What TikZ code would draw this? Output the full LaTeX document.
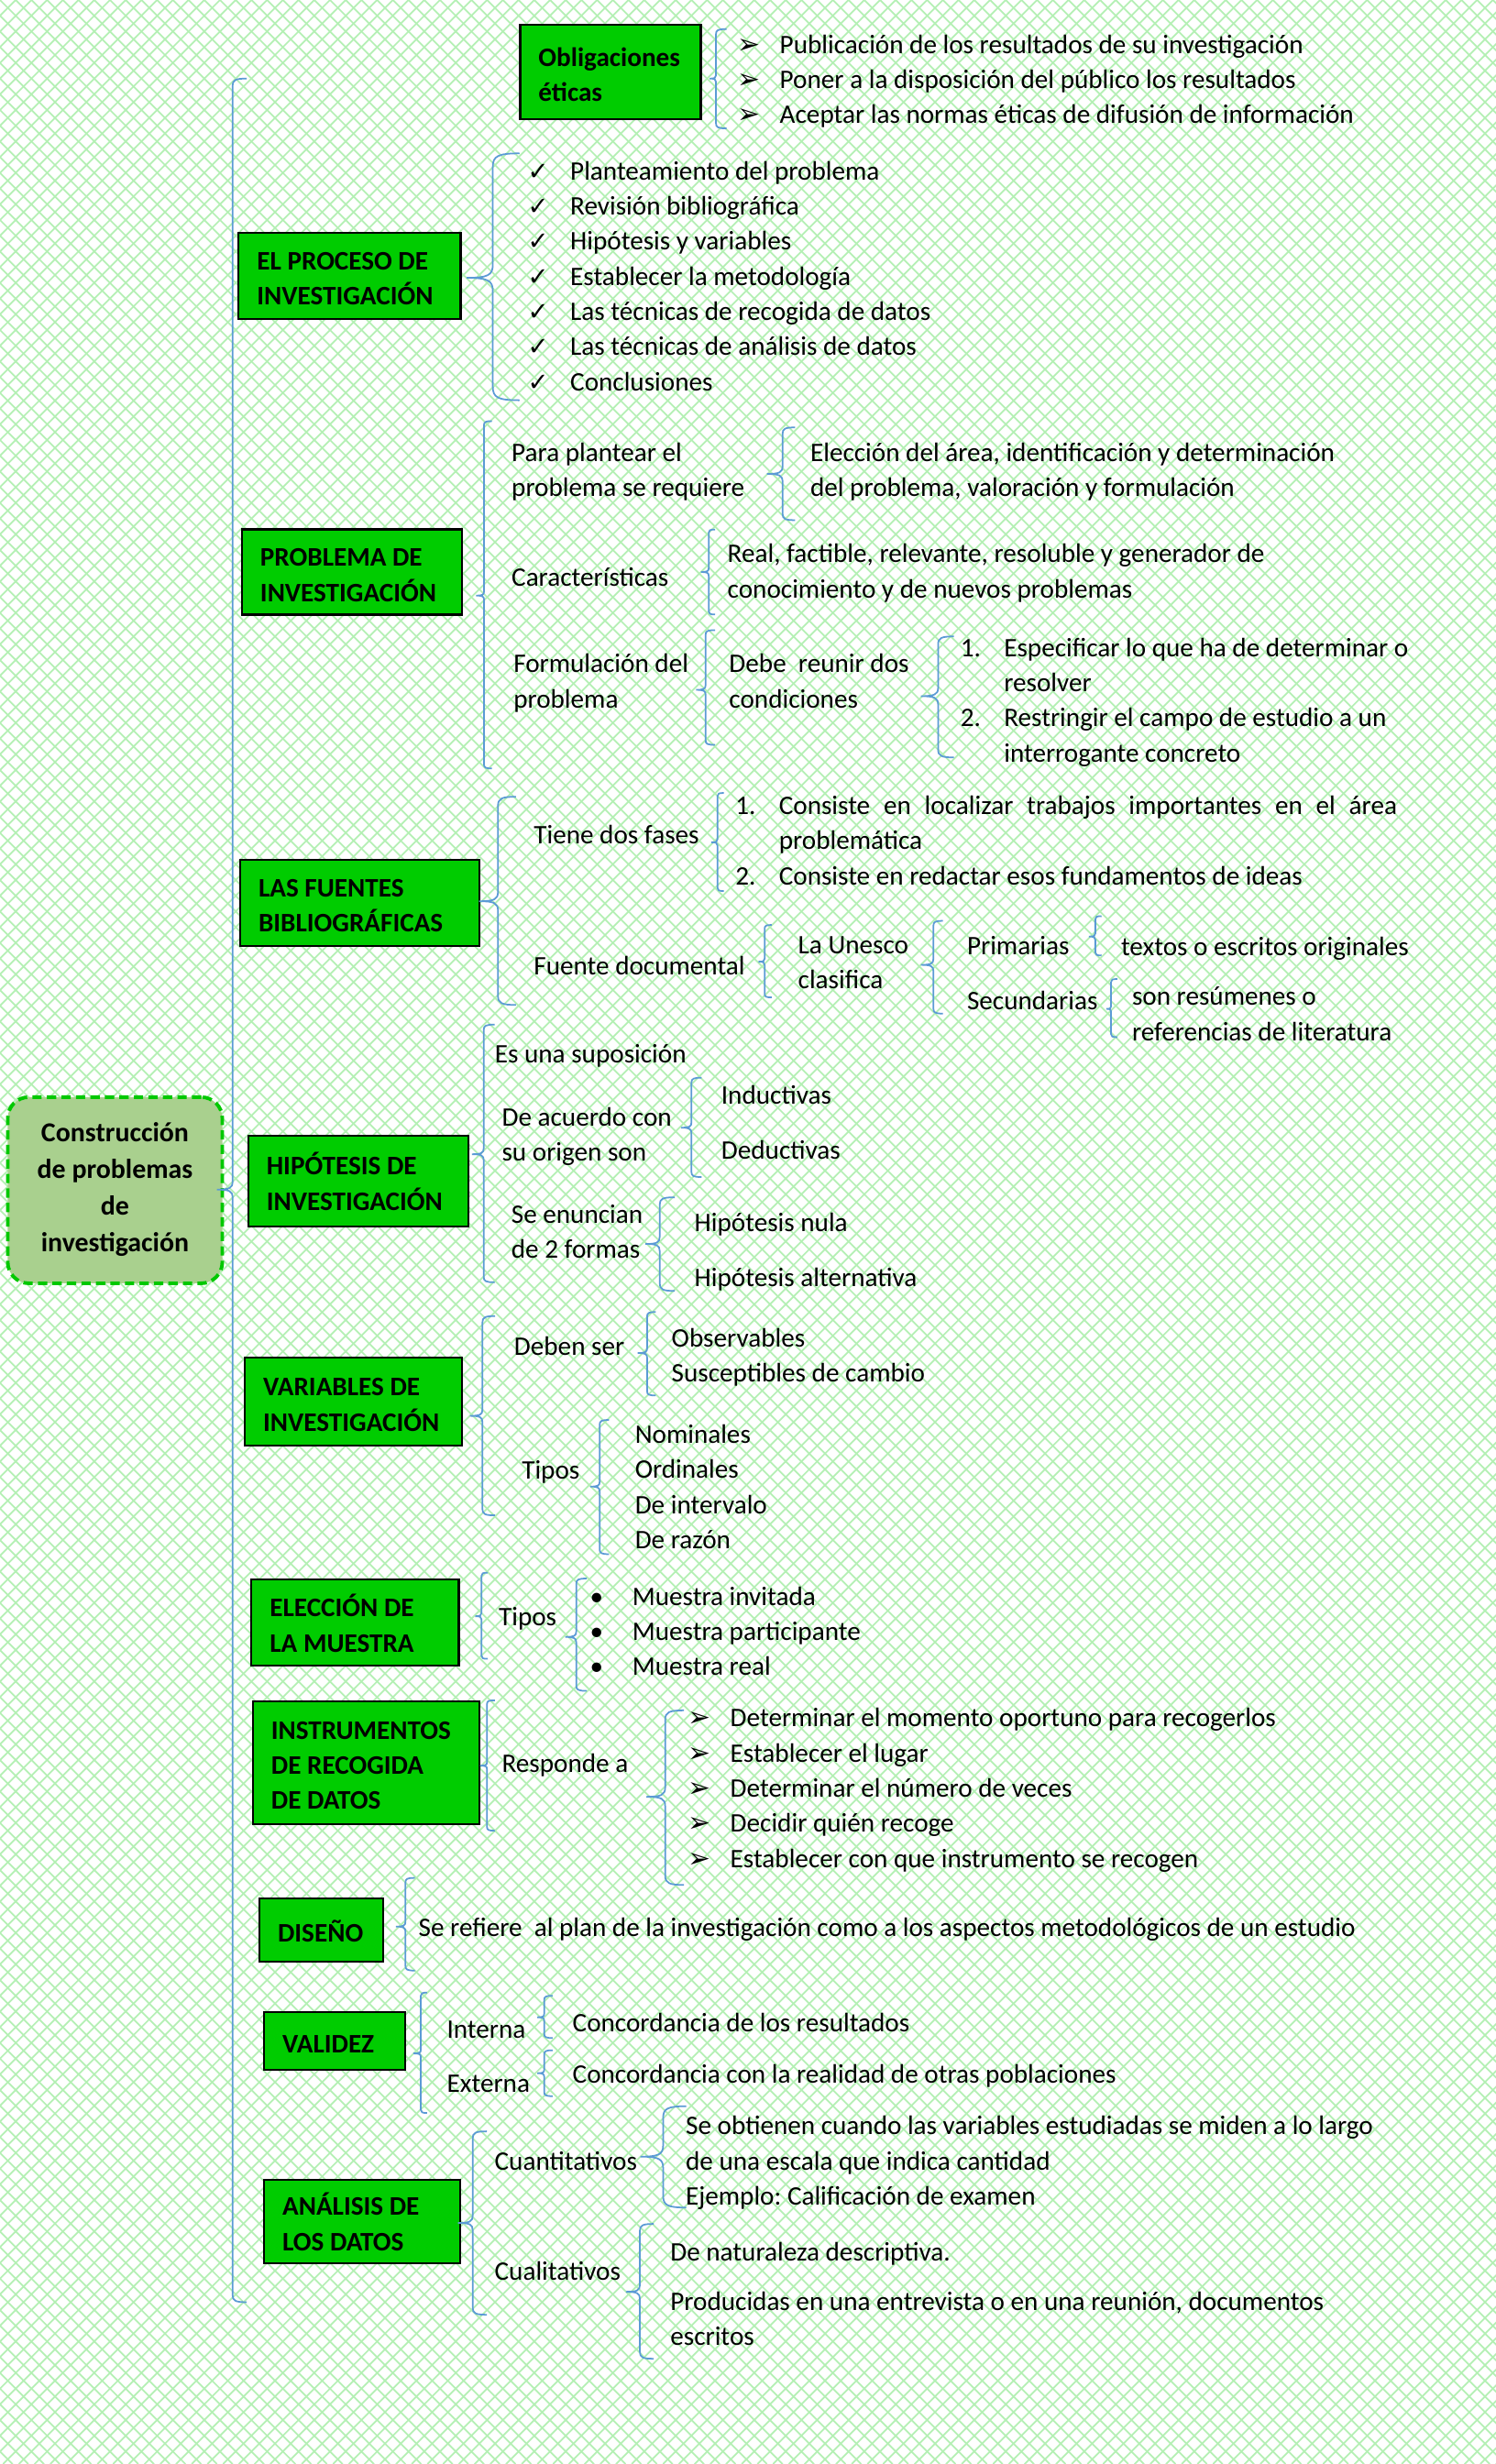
\documentclass[tikz,border=0pt]{standalone}
\usepackage{fontspec}
\setmainfont{Carlito}
\newfontfamily\simb{DejaVu Sans}
\usepackage{xcolor}
\usepackage{tikz}
\frenchspacing
\definecolor{verdecaja}{HTML}{00CC00}
\definecolor{verderaiz}{HTML}{A9D08E}
\definecolor{bordeverde}{HTML}{00C800}
\definecolor{azulllave}{HTML}{5B9BD5}
\definecolor{verdemalla}{HTML}{B4F0B4}
% soportes para centrar el texto
\newcommand{\tope}{\rule{0pt}{9.1pt}}
\newcommand{\fondo}{\rule[-1.8pt]{0pt}{1.8pt}}
\newcommand{\topeR}{\rule{0pt}{9.4pt}}
\newcommand{\fondoR}{\rule[-2pt]{0pt}{2pt}}
\tikzstyle{rama} = [rectangle, draw=black, line width=0.6pt, fill=verdecaja, inner xsep=0.2cm, inner ysep=0.05cm, align=flush left, font=\fontsize{8.3}{10.9}\selectfont\bfseries, execute at begin node=\tope, execute at end node=\fondo]
\tikzstyle{raiz} = [rectangle, rounded corners=0.23cm, draw=bordeverde, line width=1.1pt, dash pattern=on 2.9pt off 1.6pt, fill=verderaiz, align=center, minimum width=2.34cm, minimum height=2.03cm, font=\fontsize{8.5}{11.4}\selectfont\bfseries, execute at begin node=\topeR, execute at end node=\fondoR]
\tikzstyle{texto} = [anchor=west, inner sep=0pt, align=left, font=\fontsize{8.3}{10.9}\selectfont, execute at begin node=\tope, execute at end node=\fondo]
\tikzstyle{llave} = [draw=azulllave, line width=0.5pt]
\tikzstyle{malla} = [draw=verdemalla, line width=0.5pt]
% vinetas
\newcommand{\flecha}{\makebox[0.46cm][l]{\simb\fontsize{8.5}{10.9}\selectfont ➢}}
\newcommand{\visto}{\makebox[0.465cm][l]{\simb\fontsize{7.8}{10.9}\selectfont ✓}}
\newcommand{\punto}{\makebox[0.463cm][l]{•}}
\newcommand{\numer}[1]{\makebox[0.475cm][l]{#1}}
% llave: x, arriba, punta, abajo, gancho, largo de la punta
\newcommand{\llave}[6]{%
  \draw[llave] (#1+#5,#2) .. controls (#1+0.2*#5,#2) and (#1,#2+0.1*#5) .. (#1,#2+0.5*#5)
    -- (#1,#3-0.5*#6) .. controls (#1,#3-0.1*#6) and (#1-0.2*#6,#3) .. (#1-#6,#3)
    .. controls (#1-0.2*#6,#3) and (#1,#3+0.1*#6) .. (#1,#3+0.5*#6)
    -- (#1,#4-0.5*#5) .. controls (#1,#4-0.1*#5) and (#1+0.2*#5,#4) .. (#1+#5,#4);}

\begin{document}
\begin{tikzpicture}[x=0.017143cm, y=-0.017143cm]
\useasboundingbox (0,0) rectangle (952,1568);
% fondo
\begin{scope}
  \clip (0,0) rectangle (952,1568);
  \fill[white] (0,0) rectangle (952,1568);
  \foreach \k in {-1570,-1560,...,950} \draw[malla] (\k,0) -- ++(1568,1568);
  \foreach \k in {0,10,...,2520} \draw[malla] (\k,0) -- ++(-1568,1568);
\end{scope}

% nodo central y llave principal
\node (raiz) [raiz] at (73.2,757.4) {Construcción\\de problemas\\de\\investigación};
\llave{148}{50}{757}{1465}{9}{10}

% ramas
\node (etica) [rama, text width=1.57cm, minimum height=1.03cm] at (388.5,46) {Obligaciones\\éticas};
\node (proceso) [rama, text width=2.02cm, minimum height=0.94cm] at (222.5,175.5) {EL PROCESO DE\\INVESTIGACIÓN};
\node (problema) [rama, text width=2.0cm, minimum height=0.93cm] at (224,364) {PROBLEMA DE\\INVESTIGACIÓN};
\node (fuentes) [rama, text width=2.21cm, minimum height=0.94cm] at (229,574.5) {LAS FUENTES\\BIBLIOGRÁFICAS};
\node (hipotesis) [rama, text width=2.0cm, minimum height=0.99cm] at (228,751.5) {HIPÓTESIS DE\\INVESTIGACIÓN};
\node (variables) [rama, text width=1.97cm, minimum height=0.96cm] at (225,892) {VARIABLES DE\\INVESTIGACIÓN};
\node (muestra) [rama, text width=1.86cm, minimum height=0.94cm] at (226,1032.5) {ELECCIÓN DE\\LA MUESTRA};
\node (instrumentos) [rama, text width=2.07cm, minimum height=1.34cm] at (233,1121.5) {INSTRUMENTOS\\DE RECOGIDA\\DE DATOS};
\node (diseno) [rama, text width=0.95cm, minimum height=0.69cm] at (204.5,1228) {DISEÑO};
\node (validez) [rama, text width=1.14cm, minimum height=0.63cm] at (213,1299) {VALIDEZ};
\node (analisis) [rama, text width=1.74cm, minimum height=0.91cm] at (230.5,1413.5) {ANÁLISIS DE\\LOS DATOS};

% obligaciones eticas
\llave{455.6}{18.5}{50}{81.7}{6.7}{4}
\node (etica1) [texto] at (469,52.2) {\flecha Publicación de los resultados de su investigación\\\flecha Poner a la disposición del público los resultados\\\flecha Aceptar las normas éticas de difusión de información};

% proceso
\llave{313.6}{97.6}{176.8}{254.7}{17}{16.6}
\node (proceso1) [texto] at (335.4,177.5) {\visto Planteamiento del problema\\\visto Revisión bibliográfica\\\visto Hipótesis y variables\\\visto Establecer la metodología\\\visto Las técnicas de recogida de datos\\\visto Las técnicas de análisis de datos\\\visto Conclusiones};

% problema
\llave{308}{268}{379}{489}{5}{5}
\node (plantear) [texto] at (325.2,300.9) {Para plantear el\\problema se requiere};
\llave{498}{272}{301.6}{331}{8}{10}
\node (eleccion) [texto] at (515.3,300.9) {Elección del área, identificación y determinación\\del problema, valoración y formulación};
\node (caract) [texto] at (325.2,365.6) {Características};
\llave{451}{337}{364}{391}{4}{5}
\node (real) [texto] at (462.6,365.1) {Real, factible, relevante, resoluble y generador de\\conocimiento y de nuevos problemas};
\node (formul) [texto] at (326.4,435.1) {Formulación del\\problema};
\llave{449}{401}{439}{474}{6}{6}
\node (reunir) [texto] at (463.6,435.1) {Debe\ \ reunir dos\\condiciones};
\llave{597}{405}{443}{482}{10}{11}
\node (condic) [texto] at (610.8,447.2) {\numer{1.}Especificar lo que ha de determinar o\\\numer{}resolver\\\numer{2.}Restringir el campo de estudio a un\\\numer{}interrogante concreto};

% fuentes
\llave{316.9}{507}{573.5}{639.5}{11.5}{12}
\node (fases) [texto] at (339.3,529.3) {Tiene dos fases};
\llave{456.6}{504.6}{536}{567}{4}{4}
\node (fases1) [texto] at (467.6,536.5) {\numer{1.}\makebox[6.74cm][s]{Consiste en localizar trabajos importantes en el área}\\\numer{}problemática\\\numer{2.}Consiste en redactar esos fundamentos de ideas};
\node (documental) [texto] at (339.3,612.9) {Fuente documental};
\llave{486.6}{588.6}{612}{634.7}{4.5}{4}
\node (unesco) [texto] at (507.5,614.3) {La Unesco\\clasifica};
\llave{594}{586}{614}{645}{6}{8}
\node (primarias) [texto] at (615,599.8) {Primarias};
\llave{697}{583}{596}{608}{4}{4}
\node (originales) [texto] at (713,600.8) {textos o escritos originales};
\node (secundarias) [texto] at (615,634.8) {Secundarias};
\llave{707}{623}{642}{660}{4}{3}
\node (resumenes) [texto] at (720,647) {son resúmenes o\\referencias de literatura};

% hipotesis
\llave{307.8}{652}{734.5}{816}{7}{7.5}
\node (suposicion) [texto] at (314.5,669) {Es una suposición};
\node (origen) [texto] at (319,723.6) {De acuerdo con\\su origen son};
\llave{440}{685.8}{717.6}{749}{6.4}{6.6}
\node (inductivas) [texto] at (458.6,695.4) {Inductivas};
\node (deductivas) [texto] at (458.6,730) {Deductivas};
\node (enuncian) [texto] at (325,785.4) {Se enuncian\\de 2 formas};
\llave{419.8}{761.9}{791.6}{821.5}{9.6}{9}
\node (nula) [texto] at (441.6,776.5) {Hipótesis nula};
\node (alternativa) [texto] at (441.6,811) {Hipótesis alternativa};

% variables
\llave{307}{837.5}{901}{964.3}{8}{8}
\node (debenser) [texto] at (326.8,855) {Deben ser};
\llave{411.8}{834.9}{861}{888}{5.5}{6}
\node (observables) [texto] at (427,864.4) {Observables\\Susceptibles de cambio};
\node (tiposvar) [texto] at (331.7,934) {Tipos};
\llave{381.6}{903.6}{946}{989}{6}{6}
\node (nominales) [texto] at (403.7,948) {Nominales\\Ordinales\\De intervalo\\De razón};

% muestra
\llave{306.4}{1000.8}{1028.5}{1055.6}{4}{4}
\node (tiposmue) [texto] at (317,1027) {Tipos};
\llave{366.7}{1004.5}{1041.7}{1076}{6.7}{7}
\node (invitada) [texto] at (375,1039.7) {\punto Muestra invitada\\\punto Muestra participante\\\punto Muestra real};

% instrumentos
\llave{309.9}{1082}{1123.6}{1165}{5}{4.4}
\node (responde) [texto] at (319,1120.4) {Responde a};
\llave{423.3}{1088.4}{1143.4}{1199.5}{12}{12}
\node (momento) [texto] at (437.5,1139.5) {\flecha Determinar el momento oportuno para recogerlos\\\flecha Establecer el lugar\\\flecha Determinar el número de veces\\\flecha Decidir quién recoge\\\flecha Establecer con que instrumento se recogen};

% diseno
\llave{258}{1195}{1226}{1254}{6}{6}
\node (plan) [texto] at (266,1225) {Se refiere\ \ al plan de la investigación como a los aspectos metodológicos de un estudio};

% validez
\llave{267.8}{1268}{1306.7}{1344.6}{4}{4.7}
\node (interna) [texto] at (284,1289.6) {Interna};
\node (externa) [texto] at (284,1324.2) {Externa};
\llave{346.3}{1270}{1283.7}{1296.9}{5.4}{4.4}
\llave{346.3}{1304.7}{1319.3}{1333.9}{5.4}{4.4}
\node (concint) [texto] at (364,1285.3) {Concordancia de los resultados};
\node (concext) [texto] at (364,1318) {Concordancia con la realidad de otras poblaciones};

% analisis
\llave{300.8}{1356.3}{1414.6}{1473}{9}{9.3}
\node (cuanti) [texto] at (314.4,1373.8) {Cuantitativos};
\node (cuali) [texto] at (314.4,1443.8) {Cualitativos};
\llave{422}{1340.3}{1372.4}{1404.8}{14.7}{14.4}
\node (cuanti1) [texto] at (436,1376.7) {Se obtienen cuando las variables estudiadas se miden a lo largo\\de una escala que indica cantidad\\Ejemplo: Calificación de examen};
\llave{407.2}{1415.2}{1458.4}{1501}{8.8}{8.8}
\node (cuali1) [texto] at (426.2,1431) {De naturaleza descriptiva.};
\node (cuali2) [texto] at (426.2,1477.3) {Producidas en una entrevista o en una reunión, documentos\\escritos};

\end{tikzpicture}
\end{document}
